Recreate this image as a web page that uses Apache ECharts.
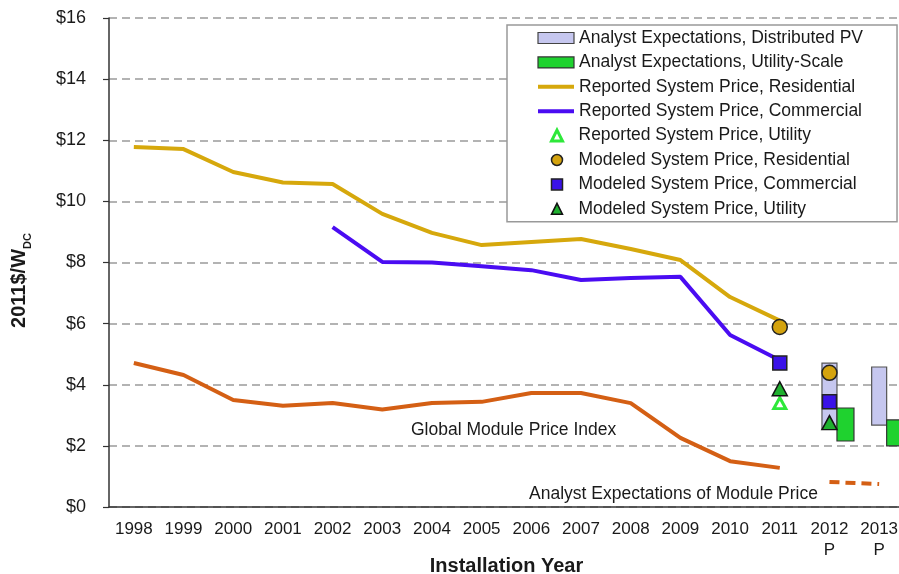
<!DOCTYPE html>
<html>
<head>
<meta charset="utf-8">
<script src="https://cdn.jsdelivr.net/npm/echarts@6/dist/echarts.min.js"></script>
<style>
  html, body { margin: 0; padding: 0; background: #fff; }
  #chart { width: 899px; height: 574px; }
</style>
</head>
<body>
<div id="chart"></div>
<script>
// installation years (2012, 2013 are projections)
const years = ['1998', '1999', '2000', '2001', '2002', '2003', '2004', '2005', '2006', '2007', '2008', '2009', '2010', '2011', '2012\nP', '2013\nP']

// reported system prices, 2011$/W
const residential = [11.78, 11.71, 10.96, 10.62, 10.57, 9.59, 8.97, 8.57, 8.67, 8.77, 8.44, 8.08, 6.87, 6.1, null, null]
const commercial = [null, null, null, null, 9.16, 8.02, 8.0, 7.88, 7.75, 7.43, 7.49, 7.53, 5.63, 4.8, null, null]
const modulePrice = [4.71, 4.32, 3.5, 3.31, 3.4, 3.19, 3.4, 3.44, 3.73, 3.73, 3.4, 2.26, 1.5, 1.28, null, null]
const moduleExpect = [null, null, null, null, null, null, null, null, null, null, null, null, null, null, 0.82, 0.75]

// points: [year, value]
const reportedUtility = [['2011', 3.4]]
const modeledResidential = [['2011', 5.89], ['2012\nP', 4.39]]
const modeledCommercial = [['2011', 4.71], ['2012\nP', 3.44]]
const modeledUtility = [['2011', 3.87], ['2012\nP', 2.76]]

// analyst expectation ranges: [year index, low, high]
const distributedPV = [[14, 2.55, 4.71], [15, 2.68, 4.58]]
const utilityScale = [[14, 2.16, 3.24], [15, 2.0, 2.85]]

const yTicks = [0, 2, 4, 6, 8, 10, 12, 14, 16]

const FONT = 'Liberation Sans, Arial, sans-serif'

function rangeBox(offset, width, fill, stroke) {
	return function (params, api) {
		const x = api.coord([api.value(0), 0])[0]
		const top = api.coord([api.value(0), api.value(2)])[1]
		const bottom = api.coord([api.value(0), api.value(1)])[1]
		return {
			type: 'rect',
			shape: { x: x + offset - width / 2, y: top, width: width, height: bottom - top },
			style: { fill: fill, stroke: stroke, lineWidth: 1.2 }
		}
	}
}

// line legend entries: hide the dot ECharts puts on the line icon
const lineOnly = { color: 'transparent', borderWidth: 0 }

const legendText = { fontFamily: FONT, fontSize: 17.5, lineHeight: 18, color: '#1a1a1a' }

const chart = echarts.init(document.getElementById('chart'))

const option = {
	backgroundColor: '#fff',
	animation: false,
	grid: { left: 109, right: -5, top: 18, bottom: 67, outerBoundsMode: 'none', containLabel: false },
	legend: [
		{
			// box + the wide icons (ranges and lines)
			orient: 'vertical',
			left: 507,
			top: 25,
			padding: [4, 34, 101.6, 29],
			itemWidth: 36,
			itemHeight: 11,
			itemGap: 6.4,
			backgroundColor: '#fff',
			borderColor: '#999',
			borderWidth: 1.5,
			borderRadius: 0,
			selectedMode: false,
			textStyle: legendText,
			lineStyle: { width: 'inherit' },
			itemStyle: { borderWidth: 'inherit' },
			data: [
				{ name: 'Analyst Expectations, Distributed PV', icon: 'rect' },
				{ name: 'Analyst Expectations, Utility-Scale', icon: 'rect' },
				{ name: 'Reported System Price, Residential', itemStyle: lineOnly },
				{ name: 'Reported System Price, Commercial', itemStyle: lineOnly }
			]
		},
		{
			// point markers, small square icons
			orient: 'vertical',
			left: 550,
			top: 126.6,
			z: 6,
			padding: 0,
			itemWidth: 11,
			itemHeight: 11,
			itemGap: 6.4,
			selectedMode: false,
			textStyle: Object.assign({ padding: [0, 0, 0, 11] }, legendText),
			itemStyle: { borderWidth: 'inherit' },
			data: [
				'Reported System Price, Utility',
				'Modeled System Price, Residential',
				'Modeled System Price, Commercial',
				'Modeled System Price, Utility'
			]
		}
	],
	xAxis: {
		type: 'category',
		data: years,
		boundaryGap: true,
		name: 'Installation Year',
		nameLocation: 'middle',
		nameGap: 49,
		nameMoveOverlap: false,
		nameTextStyle: { fontFamily: FONT, fontSize: 20, fontWeight: 'bold', color: '#1a1a1a' },
		axisLine: { lineStyle: { color: '#333', width: 1.5 } },
		axisTick: { length: 5, lineStyle: { color: '#333', width: 1.2 } },
		axisLabel: { fontFamily: FONT, fontSize: 17, color: '#1a1a1a', margin: 12, lineHeight: 21, interval: 0 },
		splitLine: { show: false }
	},
	yAxis: {
		type: 'value',
		min: 0,
		max: 16,
		interval: 2,
		name: '{a|2011$/W}{b|DC}',
		nameLocation: 'middle',
		nameRotate: 90,
		nameGap: 80,
		nameMoveOverlap: false,
		nameTextStyle: {
			fontFamily: FONT,
			color: '#1a1a1a',
			padding: [0, 36, 0, 0],
			rich: {
				a: { fontFamily: FONT, fontSize: 20, fontWeight: 'bold', color: '#1a1a1a', lineHeight: 20 },
				b: { fontFamily: FONT, fontSize: 11, fontWeight: 'bold', color: '#1a1a1a', lineHeight: 12, padding: [18, 0, 0, 0] }
			}
		},
		axisLine: { show: true, lineStyle: { color: '#333', width: 1.5 } },
		axisTick: { show: true, length: 6, lineStyle: { color: '#333', width: 1.2 } },
		axisLabel: {
			fontFamily: FONT, fontSize: 18, color: '#1a1a1a', margin: 23,
			formatter: v => yTicks.indexOf(v) >= 0 ? '$' + v : ''
		},
		splitLine: { show: true, lineStyle: { color: '#9a9a9a', width: 1.5, type: [8, 5] } }
	},
	graphic: [
		{
			type: 'text', left: 411, top: 421,
			style: { text: 'Global Module Price Index', fontFamily: FONT, fontSize: 17.5, fill: '#1a1a1a' }
		},
		{
			type: 'text', left: 529, top: 485,
			style: { text: 'Analyst Expectations of Module Price', fontFamily: FONT, fontSize: 17.5, fill: '#1a1a1a' }
		}
	],
	series: [
		{
			name: 'Analyst Expectations, Distributed PV',
			type: 'custom',
			z: 2,
			encode: { x: 0, y: [1, 2] },
			itemStyle: { color: '#c6c7ef', borderColor: '#444', borderWidth: 1.2 },
			renderItem: rangeBox(0, 15, '#c6c7ef', '#555'),
			data: distributedPV
		},
		{
			name: 'Analyst Expectations, Utility-Scale',
			type: 'custom',
			z: 2,
			encode: { x: 0, y: [1, 2] },
			itemStyle: { color: '#1fd22f', borderColor: '#333', borderWidth: 1.2 },
			renderItem: rangeBox(16, 17, '#1fd22f', '#333'),
			data: utilityScale
		},
		{
			name: 'Reported System Price, Residential',
			type: 'line',
			z: 3,
			symbol: 'none',
			lineStyle: { color: '#d6a80c', width: 4 },
			itemStyle: { color: '#d6a80c' },
			data: residential
		},
		{
			name: 'Reported System Price, Commercial',
			type: 'line',
			z: 3,
			symbol: 'none',
			lineStyle: { color: '#4a0cf2', width: 4 },
			itemStyle: { color: '#4a0cf2' },
			data: commercial
		},
		{
			name: 'Global Module Price Index',
			type: 'line',
			z: 3,
			symbol: 'none',
			lineStyle: { color: '#d45f14', width: 4 },
			itemStyle: { color: '#d45f14' },
			data: modulePrice
		},
		{
			name: 'Analyst Expectations of Module Price',
			type: 'line',
			z: 3,
			symbol: 'none',
			lineStyle: { color: '#d45f14', width: 4, type: [10, 6] },
			itemStyle: { color: '#d45f14' },
			data: moduleExpect
		},
		{
			name: 'Reported System Price, Utility',
			type: 'scatter',
			z: 5,
			symbol: 'triangle',
			symbolSize: [12, 11],
			itemStyle: { color: '#fff', borderColor: '#2ee83a', borderWidth: 3, opacity: 1 },
			data: reportedUtility
		},
		{
			name: 'Modeled System Price, Residential',
			type: 'scatter',
			z: 5,
			symbol: 'circle',
			symbolSize: 15,
			itemStyle: { color: '#d4a30e', borderColor: '#222', borderWidth: 1.5, opacity: 1 },
			data: modeledResidential
		},
		{
			name: 'Modeled System Price, Commercial',
			type: 'scatter',
			z: 5,
			symbol: 'rect',
			symbolSize: 14,
			itemStyle: { color: '#3a12e8', borderColor: '#222', borderWidth: 1.5, opacity: 1 },
			data: modeledCommercial
		},
		{
			name: 'Modeled System Price, Utility',
			type: 'scatter',
			z: 5,
			symbol: 'triangle',
			symbolSize: [15, 14],
			itemStyle: { color: '#1fb02f', borderColor: '#111', borderWidth: 1.5, opacity: 1 },
			data: modeledUtility
		}
	]
}

chart.setOption(option)
</script>
</body>
</html>
